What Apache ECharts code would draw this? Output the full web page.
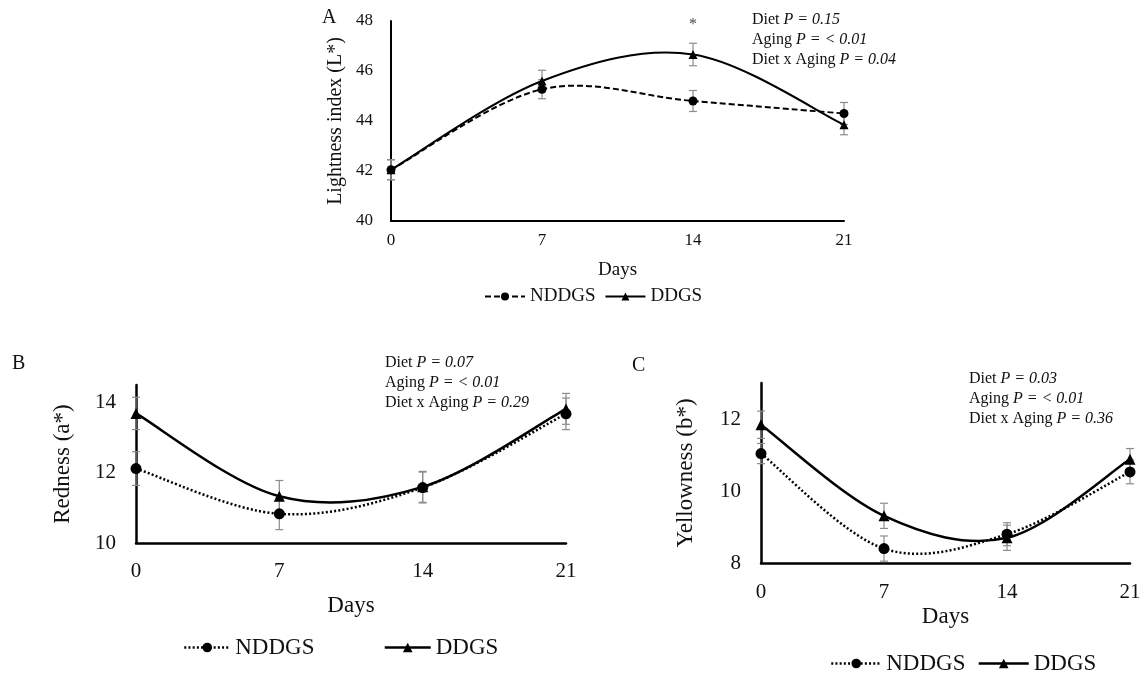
<!DOCTYPE html>
<html>
<head>
<meta charset="utf-8">
<script src="https://cdn.jsdelivr.net/npm/echarts@6/dist/echarts.min.js"></script>
<style>
  html, body { margin: 0; background: #fff; }
  #chart { width: 1148px; height: 673px; }
</style>
</head>
<body>
<div id="chart"></div>
<script>
(() => {
  const days = ['0', '7', '14', '21'];

  // A: lightness (L*)
  const aNddgs = [42.05, 45.27, 44.80, 44.30];
  const aDdgs = [42.05, 45.60, 46.66, 43.85];
  const aNddgsSe = [0.40, 0.38, 0.42, 0.44];
  const aDdgsSe = [0.40, 0.43, 0.45, 0.40];
  const aStar = [['14', 47.85]];

  // B: redness (a*)
  const bNddgs = [12.12, 10.83, 11.58, 13.68];
  const bDdgs = [13.69, 11.33, 11.60, 13.82];
  const bNddgsSe = [0.48, 0.45, 0.44, 0.45];
  const bDdgsSe = [0.46, 0.45, 0.44, 0.44];

  // C: yellowness (b*)
  const cNddgs = [11.04, 8.40, 8.80, 10.53];
  const cDdgs = [11.84, 9.31, 8.70, 10.88];
  const cNddgsSe = [0.28, 0.35, 0.32, 0.33];
  const cDdgsSe = [0.38, 0.35, 0.35, 0.30];

  const font = '"Liberation Serif", "Times New Roman", serif';
  const ink = '#111';
  const dashA = [6, 3];
  const dots = [2, 2.2];

  const chart = echarts.init(document.getElementById('chart'), null, { renderer: 'canvas' });

  function errorSeries(idx, means, se) {
    return {
      type: 'custom',
      xAxisIndex: idx,
      yAxisIndex: idx,
      z: 1,
      silent: true,
      data: means.map((m, i) => [i, m - se[i], m + se[i]]),
      renderItem: (params, api) => {
        const lo = api.coord([api.value(0), api.value(1)]);
        const hi = api.coord([api.value(0), api.value(2)]);
        const w = 4;
        const style = { stroke: '#8c8c8c', lineWidth: 1.2 };
        return {
          type: 'group',
          children: [
            { type: 'line', shape: { x1: lo[0], y1: lo[1], x2: hi[0], y2: hi[1] }, style },
            { type: 'line', shape: { x1: lo[0] - w, y1: lo[1], x2: lo[0] + w, y2: lo[1] }, style },
            { type: 'line', shape: { x1: hi[0] - w, y1: hi[1], x2: hi[0] + w, y2: hi[1] }, style },
          ],
        };
      },
    };
  }

  // spreadsheet-style smoothed curve through the means (cardinal spline)
  function curveSeries(idx, means, dash, width) {
    return {
      type: 'custom',
      xAxisIndex: idx,
      yAxisIndex: idx,
      z: 2,
      silent: true,
      data: means.map((m, i) => [i, m]),
      renderItem: (params, api) => {
        if (params.dataIndex !== 0) return null;
        const pts = means.map((m, i) => api.coord([i, m]));
        let d = `M${pts[0][0]},${pts[0][1]}`;
        for (let i = 0; i < pts.length - 1; i++) {
          const p0 = pts[Math.max(i - 1, 0)];
          const p1 = pts[i];
          const p2 = pts[i + 1];
          const p3 = pts[Math.min(i + 2, pts.length - 1)];
          const c1x = p1[0] + (p2[0] - p0[0]) / 6;
          const c1y = p1[1] + (p2[1] - p0[1]) / 6;
          const c2x = p2[0] - (p3[0] - p1[0]) / 6;
          const c2y = p2[1] - (p3[1] - p1[1]) / 6;
          d += ` C${c1x},${c1y} ${c2x},${c2y} ${p2[0]},${p2[1]}`;
        }
        return {
          type: 'path',
          shape: { pathData: d },
          style: { fill: 'none', stroke: '#000', lineWidth: width, lineDash: dash },
        };
      },
    };
  }

  function markSeries(idx, name, data, symbol, size) {
    return {
      type: 'line',
      name,
      xAxisIndex: idx,
      yAxisIndex: idx,
      data,
      symbol,
      symbolSize: size,
      showSymbol: true,
      z: 3,
      lineStyle: { opacity: 0 },
      itemStyle: { color: '#000' },
    };
  }

  function xAxis(idx, fs, nfs, margin, nameGap, lw) {
    return {
      type: 'category',
      gridIndex: idx,
      data: days,
      boundaryGap: false,
      name: 'Days',
      nameLocation: 'middle',
      nameGap,
      nameTextStyle: { fontFamily: font, fontSize: nfs, color: ink },
      axisLine: { lineStyle: { color: '#000', width: lw } },
      axisTick: { show: false },
      axisLabel: { fontFamily: font, fontSize: fs, color: ink, margin },
      splitLine: { show: false },
    };
  }

  function yAxis(idx, min, max, name, fs, nfs, margin, nameGap, lw) {
    return {
      type: 'value',
      gridIndex: idx,
      min,
      max,
      interval: 2,
      name,
      nameLocation: 'middle',
      nameGap,
      nameTextStyle: { fontFamily: font, fontSize: nfs, color: ink },
      axisLine: { show: true, lineStyle: { color: '#000', width: lw } },
      axisTick: { show: false },
      axisLabel: {
        fontFamily: font, fontSize: fs, color: ink, margin,
        formatter: (v) => (v % 2 === 0 ? String(v) : ''),
      },
      splitLine: { show: false },
    };
  }

  function legend(left, top, fs, itemWidth, itemHeight, itemGap, dash, lw) {
    return {
      left, top,
      itemWidth, itemHeight, itemGap,
      textStyle: { fontFamily: font, fontSize: fs, color: ink },
      data: [
        { name: 'NDDGS', lineStyle: { type: dash, width: lw, opacity: 1, color: '#000' } },
        { name: 'DDGS', lineStyle: { type: 'solid', width: lw, opacity: 1, color: '#000' } },
      ],
      selectedMode: false,
    };
  }

  function note(x, y, label, p, fs) {
    return {
      type: 'text', left: x, top: y,
      style: {
        text: `${label} {i|P = ${p}}`,
        font: `${fs}px ${font}`,
        fill: ink,
        rich: { i: { fontStyle: 'italic', fontFamily: font, fontSize: fs, fill: ink } },
      },
    };
  }

  function notes(x, y, fs, p) {
    return [
      note(x, y, 'Diet', p[0], fs),
      note(x, y + 20, 'Aging', p[1], fs),
      note(x, y + 40, 'Diet x Aging', p[2], fs),
    ];
  }

  function letter(x, y, t) {
    return { type: 'text', left: x, top: y, style: { text: t, font: `20px ${font}`, fill: ink } };
  }

  chart.setOption({
    backgroundColor: '#fff',
    animation: false,
    grid: [
      { left: 391, top: 21, width: 453, height: 200 },
      { left: 136, top: 385, width: 430, height: 158 },
      { left: 761, top: 383, width: 369, height: 180 },
    ],
    xAxis: [
      xAxis(0, 17, 19, 11, 40, 2),
      xAxis(1, 21, 23, 18, 51, 2.5),
      xAxis(2, 21, 23, 19, 42, 2.5),
    ],
    yAxis: [
      yAxis(0, 40, 48, 'Lightness index (L*)', 17, 20, 18, 45, 2),
      yAxis(1, 10, 14.5, 'Redness (a*)', 21, 23, 20, 62, 2.5),
      yAxis(2, 8, 13, 'Yellowness (b*)', 21, 23, 20, 64, 2.5),
    ],
    legend: [
      legend(479, 282, 19, 40, 10, 9, dashA, 2),
      legend(178, 631, 23, 46, 12, 69, dots, 2.5),
      legend(825, 647, 23, 50, 12, 12, dots, 2.5),
    ],
    graphic: [
      letter(322, 8, 'A'),
      letter(12, 354, 'B'),
      letter(632, 356, 'C'),
      ...notes(752, 12, 16, ['0.15', '< 0.01', '0.04']),
      ...notes(385, 355, 16, ['0.07', '< 0.01', '0.29']),
      ...notes(969, 371, 16, ['0.03', '< 0.01', '0.36']),
    ],
    series: [
      errorSeries(0, aNddgs, aNddgsSe),
      errorSeries(0, aDdgs, aDdgsSe),
      curveSeries(0, aNddgs, dashA, 2),
      curveSeries(0, aDdgs, null, 2),
      markSeries(0, 'NDDGS', aNddgs, 'circle', 9),
      markSeries(0, 'DDGS', aDdgs, 'triangle', 9),
      {
        type: 'scatter', xAxisIndex: 0, yAxisIndex: 0, data: aStar,
        symbolSize: 0, silent: true,
        label: { show: true, formatter: '*', position: 'inside', fontFamily: font, fontSize: 16, color: ink },
      },
      errorSeries(1, bNddgs, bNddgsSe),
      errorSeries(1, bDdgs, bDdgsSe),
      curveSeries(1, bNddgs, dots, 2.5),
      curveSeries(1, bDdgs, null, 2.5),
      markSeries(1, 'NDDGS', bNddgs, 'circle', 11),
      markSeries(1, 'DDGS', bDdgs, 'triangle', 11),
      errorSeries(2, cNddgs, cNddgsSe),
      errorSeries(2, cDdgs, cDdgsSe),
      curveSeries(2, cNddgs, dots, 2.5),
      curveSeries(2, cDdgs, null, 2.5),
      markSeries(2, 'NDDGS', cNddgs, 'circle', 11),
      markSeries(2, 'DDGS', cDdgs, 'triangle', 11),
    ],
  });
})();
</script>
</body>
</html>
